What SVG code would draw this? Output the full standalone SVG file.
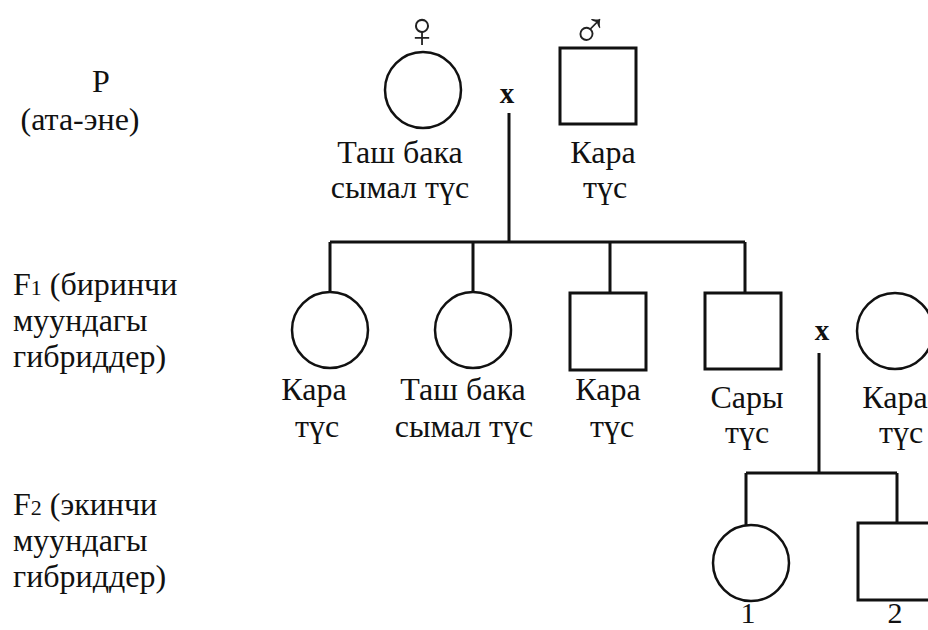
<svg xmlns="http://www.w3.org/2000/svg" width="928" height="630" viewBox="0 0 928 630">
<style>
text{font-family:"Liberation Serif","Times New Roman",serif;font-size:32px;fill:#111}
.m{text-anchor:middle}
.b{font-weight:bold;font-size:29px}
.sub{font-size:22px}
.num{font-size:30px}
.sym{font-family:"DejaVu Sans",sans-serif;font-size:50px;text-anchor:middle;font-weight:200;fill:#222}
.c{fill:#fff;stroke:#111;stroke-width:2.5}
.s{fill:#fff;stroke:#111;stroke-width:3}
.ln{stroke:#111;stroke-width:3;fill:none}
</style>
<rect width="928" height="630" fill="#fff"/>
<g id="labels">
<text class="m" x="101" y="92">P</text>
<text class="m" x="80" y="130">(ата-эне)</text>
<text x="13" y="295">F<tspan class="sub">1</tspan> (биринчи</text>
<text x="13" y="331">муундагы</text>
<text x="13" y="367">гибриддер)</text>
<text x="13" y="515">F<tspan class="sub">2</tspan> (экинчи</text>
<text x="13" y="551">муундагы</text>
<text x="13" y="587">гибриддер)</text>
</g>
<g id="connectors">
<path class="ln" d="M509 113V242M330 242H745M330 242V292M473 242V292M610 242V293M745 242V293"/>
<path class="ln" d="M819 353V473M746 473H897M746 473V525M897 473V523"/>
<text class="m b" x="507" y="103">x</text>
<text class="m b" x="822" y="340">x</text>
</g>
<g id="p-female">
<text class="sym" x="422" y="47">♀</text>
<circle class="c" cx="423" cy="90" r="38"/>
<text class="m" x="400" y="163">Таш бака</text>
<text class="m" x="400" y="198">сымал түс</text>
</g>
<g id="p-male">
<text class="sym" x="590" y="47">♂</text>
<rect class="s" x="560" y="48" width="76" height="76"/>
<text class="m" x="603" y="163">Кара</text>
<text class="m" x="605" y="198">түс</text>
</g>
<g id="f1-1">
<circle class="c" cx="330" cy="330" r="38"/>
<text class="m" x="314" y="400">Кара</text>
<text class="m" x="317" y="437">түс</text>
</g>
<g id="f1-2">
<circle class="c" cx="473" cy="330" r="38"/>
<text class="m" x="463" y="400">Таш бака</text>
<text class="m" x="464" y="437">сымал түс</text>
</g>
<g id="f1-3">
<rect class="s" x="570" y="293" width="76" height="77"/>
<text class="m" x="608" y="400">Кара</text>
<text class="m" x="612" y="437">түс</text>
</g>
<g id="f1-4">
<rect class="s" x="705" y="293" width="76" height="76"/>
<text class="m" x="747" y="408">Сары</text>
<text class="m" x="747" y="443">түс</text>
</g>
<g id="f1-5">
<circle class="c" cx="895" cy="331" r="38"/>
<text class="m" x="895" y="408">Кара</text>
<text class="m" x="901" y="443">түс</text>
</g>
<g id="f2-1">
<circle class="c" cx="751" cy="563" r="38"/>
<text class="m num" x="748" y="623">1</text>
</g>
<g id="f2-2">
<rect class="s" x="858" y="523" width="76" height="77"/>
<text class="m num" x="895" y="623">2</text>
</g>
</svg>
